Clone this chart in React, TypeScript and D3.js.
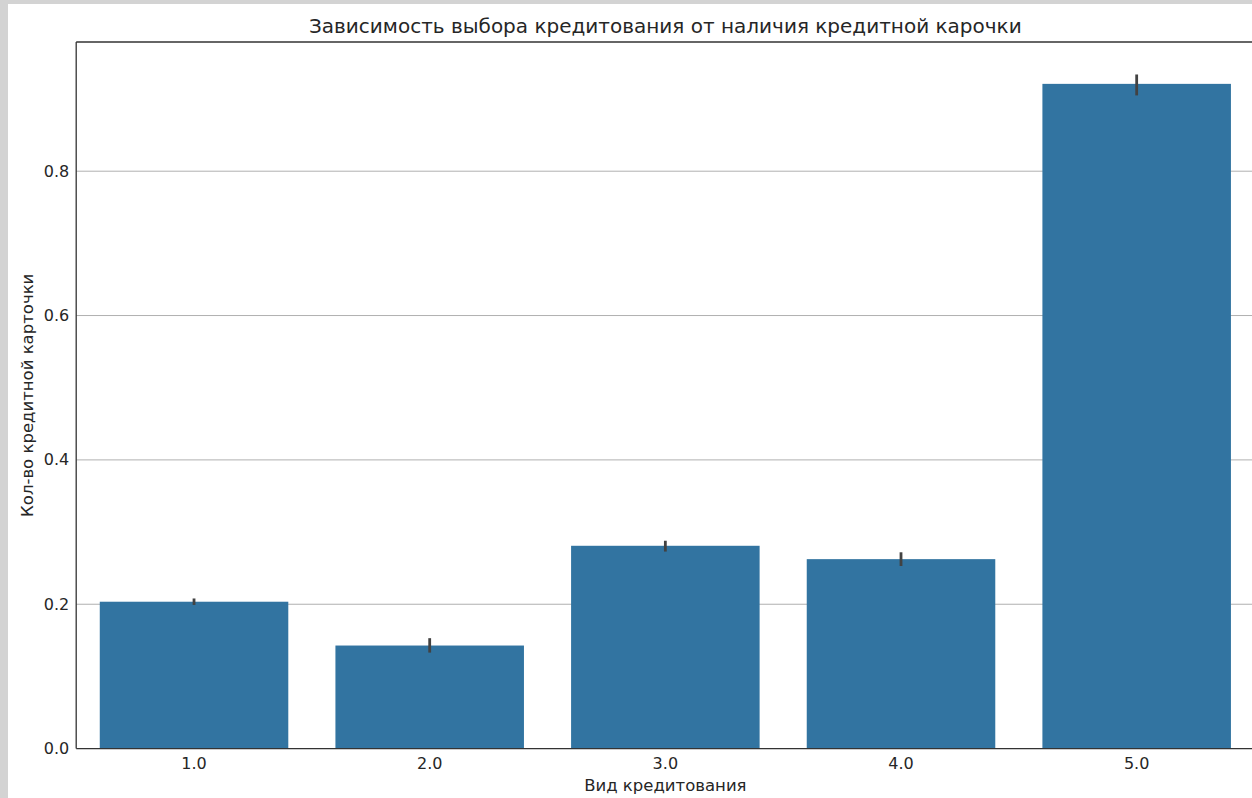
import React from "react";
import * as d3 from "d3";

const categories = ["1.0", "2.0", "3.0", "4.0", "5.0"];
const values = [0.2035, 0.1428, 0.281, 0.2625, 0.921];
const errLow = [0.199, 0.133, 0.273, 0.253, 0.905];
const errHigh = [0.208, 0.153, 0.288, 0.272, 0.934];
const yTicks = [0.0, 0.2, 0.4, 0.6, 0.8];

const title = "Зависимость выбора кредитования от наличия кредитной карочки";
const xLabel = "Вид кредитования";
const yLabel = "Кол-во кредитной карточки";

const W = 1252;
const H = 798;
const left = 76.2;
const right = 1254.5;
const top = 42;
const bottom = 748.6;

export default function App() {
  const x = d3.scaleBand<string>().domain(categories).range([left, right]).paddingInner(0.2).paddingOuter(0.1);
  const y = d3.scaleLinear().domain([0, 0.979]).range([bottom, top]);
  const font = "DejaVu Sans, sans-serif";
  const barColor = "#3274a1";
  const errColor = "#424242";
  return (
    <svg width={W} height={H} style={{ position: "absolute", left: 0, top: 0 }} fontFamily={font}>
      <rect x={0} y={0} width={W} height={H} fill="#d3d3d3" />
      <rect x={8} y={4} width={W - 8} height={H - 4} fill="#ffffff" />
      {yTicks.filter((t) => t > 0).map((t) => (
        <line key={"g" + t} x1={left} x2={right} y1={y(t)} y2={y(t)} stroke="#b0b0b0" strokeWidth={1} />
      ))}
      {categories.map((c, i) => (
        <rect key={"b" + c} x={x(c)} y={y(values[i])} width={x.bandwidth()} height={y(0) - y(values[i])} fill={barColor} />
      ))}
      {categories.map((c, i) => {
        const cx = (x(c) as number) + x.bandwidth() / 2;
        return <line key={"e" + c} x1={cx} x2={cx} y1={y(errLow[i])} y2={y(errHigh[i])} stroke={errColor} strokeWidth={2.8} />;
      })}
      <line x1={left} x2={left} y1={top} y2={bottom} stroke="#333" strokeWidth={1.3} />
      <line x1={left} x2={right} y1={top} y2={top} stroke="#333" strokeWidth={1.3} />
      <line x1={left} x2={right} y1={bottom} y2={bottom} stroke="#333" strokeWidth={1.3} />
      {yTicks.map((t) => (
        <text key={"yt" + t} x={left - 7} y={y(t)} dy="0.35em" textAnchor="end" fontSize={16} fill="#262626">
          {t.toFixed(1)}
        </text>
      ))}
      {categories.map((c) => (
        <text key={"xt" + c} x={(x(c) as number) + x.bandwidth() / 2} y={bottom + 20} textAnchor="middle" fontSize={16} fill="#262626">
          {c}
        </text>
      ))}
      <text x={(left + right) / 2} y={791} textAnchor="middle" fontSize={16.5} fill="#262626">
        {xLabel}
      </text>
      <text transform={`translate(33, ${(top + bottom) / 2}) rotate(-90)`} textAnchor="middle" fontSize={16.5} fill="#262626">
        {yLabel}
      </text>
      <text x={(left + right) / 2} y={33} textAnchor="middle" fontSize={20} fill="#262626">
        {title}
      </text>
    </svg>
  );
}
